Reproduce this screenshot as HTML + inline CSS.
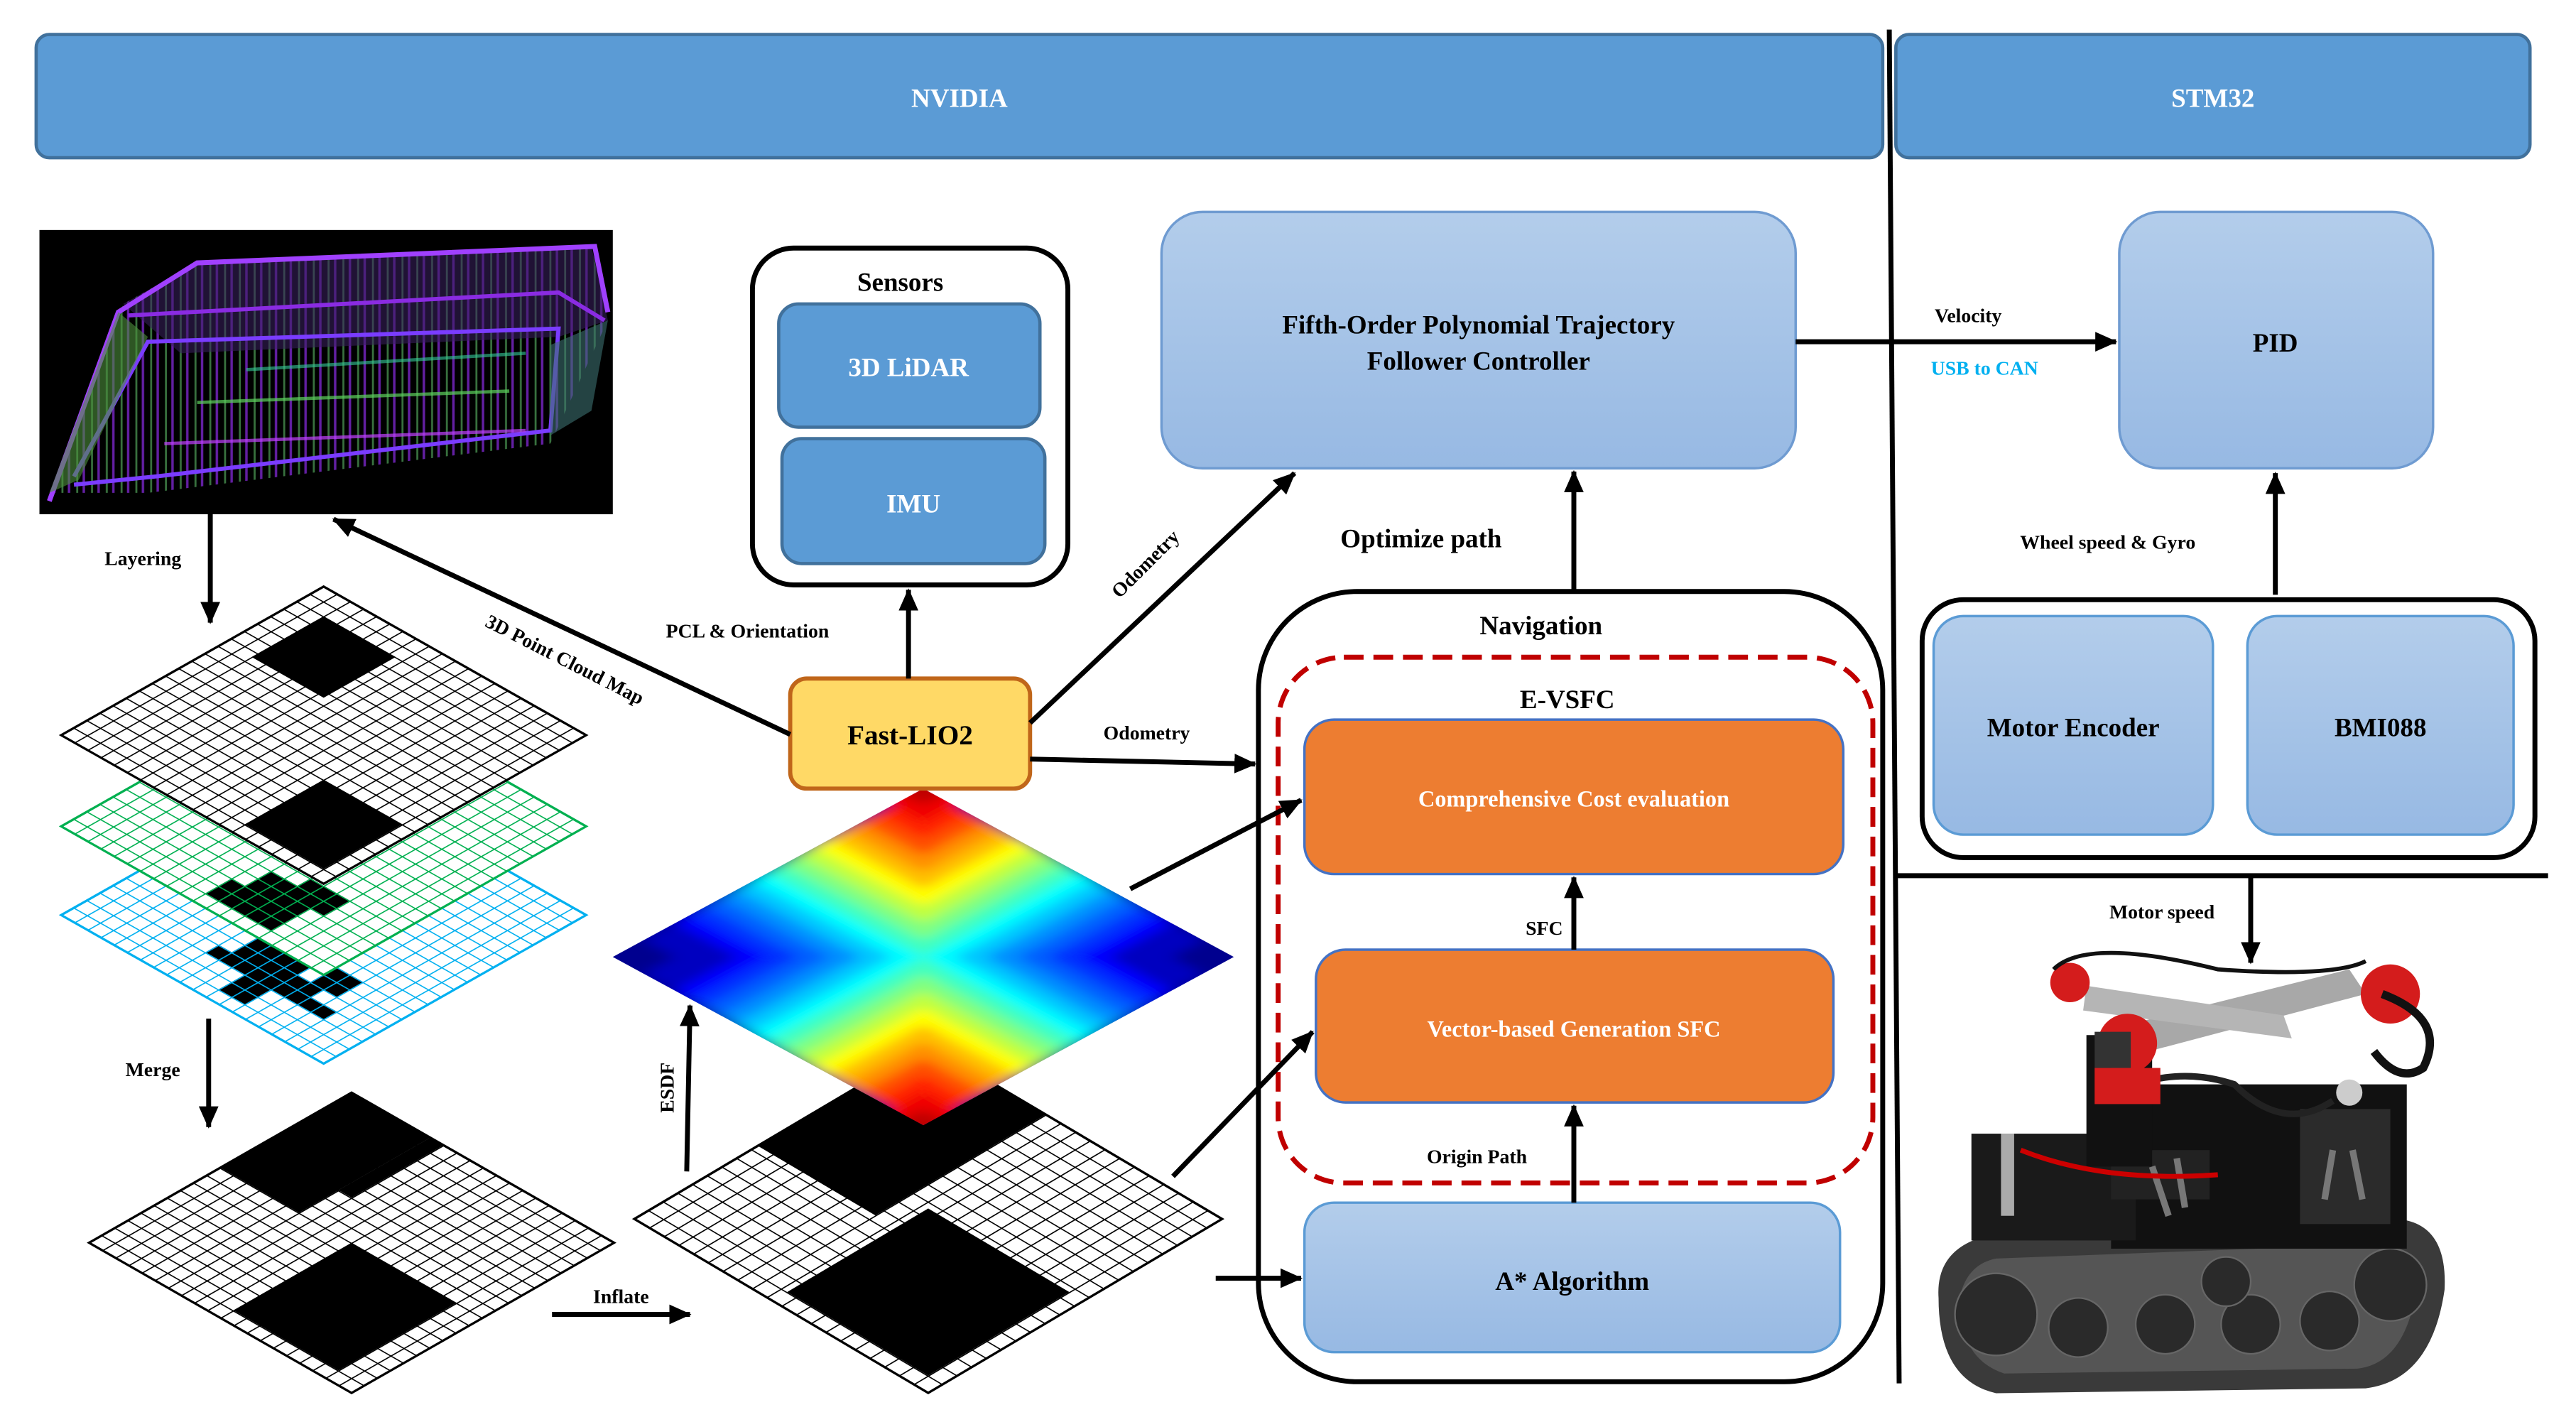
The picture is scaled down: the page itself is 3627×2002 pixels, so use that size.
<!DOCTYPE html>
<html><head><meta charset="utf-8"><style>
html,body{margin:0;padding:0;background:#fff;}
svg{display:block;}
text{font-family:"Liberation Serif",serif;font-weight:bold;}
</style></head><body>
<svg width="3627" height="2002" viewBox="0 0 1568 865.5" xmlns="http://www.w3.org/2000/svg">
<defs>
<marker id="ar" markerWidth="4.5" markerHeight="4" refX="4.2" refY="2" orient="auto" markerUnits="strokeWidth"><path d="M0,0 L4.5,2 L0,4 z" fill="#000"/></marker>
<linearGradient id="lb" x1="0" y1="0" x2="0" y2="1"><stop offset="0" stop-color="#B3CDEB"/><stop offset="1" stop-color="#97B9E3"/></linearGradient>
<pattern id="gk" width="11.3" height="11.3" patternUnits="userSpaceOnUse"><path d="M0 0H11.3M0 0V11.3" stroke="#000" stroke-width="2" fill="none"/></pattern>
<pattern id="gg" width="11.3" height="11.3" patternUnits="userSpaceOnUse"><path d="M0 0H11.3M0 0V11.3" stroke="#00B050" stroke-width="2" fill="none"/></pattern>
<pattern id="gb" width="11.3" height="11.3" patternUnits="userSpaceOnUse"><path d="M0 0H11.3M0 0V11.3" stroke="#00B0F0" stroke-width="2" fill="none"/></pattern>
<pattern id="gk2" width="12.65" height="12.65" patternUnits="userSpaceOnUse"><path d="M0 0H12.65M0 0V12.65" stroke="#000" stroke-width="2" fill="none"/></pattern>
<pattern id="pcv" width="9" height="10" patternUnits="userSpaceOnUse"><rect width="9" height="10" fill="none"/><path d="M2 0V10" stroke="#7CFC8A" stroke-width="1.2" opacity="0.5"/><path d="M6 0V10" stroke="#9B30FF" stroke-width="1.5" opacity="0.7"/></pattern>
<clipPath id="esc"><rect width="267.3" height="267.3"/></clipPath>
<filter id="bl" x="-10%" y="-10%" width="120%" height="120%"><feGaussianBlur stdDeviation="5"/></filter>
</defs>

<!-- Top bars -->
<rect x="22" y="21" width="1124" height="75" rx="8" fill="#5B9BD5" stroke="#41719C" stroke-width="2"/>
<text x="584" y="65" font-size="16" fill="#fff" text-anchor="middle">NVIDIA</text>
<rect x="1154" y="21" width="386" height="75" rx="8" fill="#5B9BD5" stroke="#41719C" stroke-width="2"/>
<text x="1347" y="65" font-size="16" fill="#fff" text-anchor="middle">STM32</text>
<line x1="1150" y1="18" x2="1156" y2="842" stroke="#000" stroke-width="3"/>
<line x1="1155" y1="533" x2="1551" y2="533" stroke="#000" stroke-width="3"/>

<!-- Point cloud image -->
<rect x="24" y="140" width="349" height="173" fill="#000"/>
<g>
<polygon points="30,300 75,185 120,160 360,150 370,195 335,270 90,300" fill="url(#pcv)" opacity="0.9"/>
<polygon points="75,185 120,160 360,150 370,195 340,205 110,215" fill="#3a2060" opacity="0.55"/>
<polyline points="30,305 72,190 120,160 362,150 370,190" fill="none" stroke="#A040FF" stroke-width="3"/>
<polyline points="78,192 340,178 368,195" fill="none" stroke="#8A2BE2" stroke-width="2.5"/>
<polyline points="45,290 90,208 340,200 335,262 95,290 45,295" fill="none" stroke="#7A3CFF" stroke-width="2.5"/>
<polyline points="120,245 310,238" fill="none" stroke="#5DD35D" stroke-width="2" opacity="0.7"/>
<polyline points="100,270 320,262" fill="none" stroke="#C040FF" stroke-width="2" opacity="0.7"/>
<polygon points="30,300 72,190 90,205 48,292" fill="#4d8f3c" opacity="0.6"/>
<polygon points="335,210 370,195 360,250 335,265" fill="#3c6f6f" opacity="0.6"/>
<polyline points="150,225 320,215" stroke="#33cc99" stroke-width="2" opacity="0.6" fill="none"/>
</g>

<!-- Sensors -->
<rect x="458" y="151" width="192" height="205" rx="25" fill="#fff" stroke="#000" stroke-width="3"/>
<text x="548" y="177" font-size="16" text-anchor="middle">Sensors</text>
<rect x="474" y="185" width="159" height="75" rx="12" fill="#5B9BD5" stroke="#41719C" stroke-width="2"/>
<text x="553" y="229" font-size="16" fill="#fff" text-anchor="middle">3D LiDAR</text>
<rect x="476" y="267" width="160" height="76" rx="12" fill="#5B9BD5" stroke="#41719C" stroke-width="2"/>
<text x="556" y="312" font-size="16" fill="#fff" text-anchor="middle">IMU</text>

<!-- Layered grids -->
<g transform="translate(197,466.5) scale(1,0.566) rotate(45)">
<rect width="226" height="226" fill="#fff"/>
<rect x="101.7" y="158.2" width="45.2" height="33.9" fill="#000"/>
<rect x="135.6" y="169.5" width="33.9" height="22.6" fill="#000"/>
<rect x="124.3" y="192.1" width="22.6" height="22.6" fill="#000"/>
<rect x="158.2" y="146.9" width="22.6" height="22.6" fill="#000"/>
<rect x="169.5" y="180.8" width="22.6" height="11.3" fill="#000"/>
<rect x="90.4" y="180.8" width="22.6" height="11.3" fill="#000"/>
<rect width="226" height="226" fill="url(#gb)" stroke="#00B0F0" stroke-width="2"/>
</g>
<g transform="translate(197,412.5) scale(1,0.566) rotate(45)">
<rect width="226" height="226" fill="#fff"/>
<rect x="124.3" y="169.5" width="45.2" height="45.2" fill="#000"/>
<rect x="146.9" y="158.2" width="33.9" height="22.6" fill="#000"/>
<rect x="113" y="192.1" width="11.3" height="22.6" fill="#000"/>
<rect width="226" height="226" fill="url(#gg)" stroke="#00B050" stroke-width="2"/>
</g>
<g transform="translate(197,357) scale(1,0.566) rotate(45)">
<rect width="226" height="226" fill="#fff"/>
<rect x="22.6" y="22.6" width="62" height="62" fill="#000"/>
<rect x="146.9" y="146.9" width="67.8" height="67.8" fill="#000"/>
<rect width="226" height="226" fill="url(#gk)" stroke="#000" stroke-width="2"/>
</g>

<!-- Merged grid -->
<g transform="translate(214,665) scale(1,0.572) rotate(45)">
<rect width="226" height="226" fill="#fff"/>
<rect x="0" y="0" width="67.8" height="113" fill="#000"/>
<rect x="67.8" y="0" width="11.3" height="79" fill="#000"/>
<rect x="113" y="113" width="90.4" height="101.7" fill="#000"/>
<rect width="226" height="226" fill="url(#gk)" stroke="#000" stroke-width="2"/>
</g>

<!-- Inflated grid -->
<g transform="translate(565,636) scale(1,0.592) rotate(45)">
<rect width="253" height="253" fill="#fff"/>
<rect x="0" y="0" width="101.2" height="146.7" fill="#000"/>
<rect x="118.9" y="118.9" width="121.4" height="121.4" fill="#000"/>
<rect width="253" height="253" fill="url(#gk2)" stroke="#000" stroke-width="2"/>
</g>

<!-- ESDF -->
<g transform="translate(562,480) scale(1,0.542) rotate(45)">
<g clip-path="url(#esc)">
<g filter="url(#bl)">
<rect x="-20" y="-20" width="310" height="310" fill="#00008F"/>
<rect x="0" y="0" width="240.6" height="240.6" fill="#0000C0"/><rect x="26.7" y="26.7" width="240.6" height="240.6" fill="#0000C0"/>
<rect x="0" y="0" width="213.8" height="213.8" fill="#0000FF"/><rect x="53.5" y="53.5" width="213.8" height="213.8" fill="#0000FF"/>
<rect x="0" y="0" width="200.5" height="200.5" fill="#0030FF"/><rect x="66.8" y="66.8" width="200.5" height="200.5" fill="#0030FF"/>
<rect x="0" y="0" width="187.1" height="187.1" fill="#0060FF"/><rect x="80.2" y="80.2" width="187.1" height="187.1" fill="#0060FF"/>
<rect x="0" y="0" width="173.7" height="173.7" fill="#0090FF"/><rect x="93.6" y="93.6" width="173.7" height="173.7" fill="#0090FF"/>
<rect x="0" y="0" width="160.4" height="160.4" fill="#00C8FF"/><rect x="106.9" y="106.9" width="160.4" height="160.4" fill="#00C8FF"/>
<rect x="0" y="0" width="147" height="147" fill="#00FFFF"/><rect x="120.3" y="120.3" width="147" height="147" fill="#00FFFF"/>
<rect x="0" y="0" width="133.7" height="133.7" fill="#40FFC0"/><rect x="133.6" y="133.6" width="133.7" height="133.7" fill="#40FFC0"/>
<rect x="0" y="0" width="120.3" height="120.3" fill="#80FF80"/><rect x="147" y="147" width="120.3" height="120.3" fill="#80FF80"/>
<rect x="0" y="0" width="106.9" height="106.9" fill="#C0FF40"/><rect x="160.4" y="160.4" width="106.9" height="106.9" fill="#C0FF40"/>
<rect x="0" y="0" width="93.6" height="93.6" fill="#FFFF00"/><rect x="173.7" y="173.7" width="93.6" height="93.6" fill="#FFFF00"/>
<rect x="0" y="0" width="80.2" height="80.2" fill="#FFC000"/><rect x="187.1" y="187.1" width="80.2" height="80.2" fill="#FFC000"/>
<rect x="0" y="0" width="66.8" height="66.8" fill="#FF9000"/><rect x="200.5" y="200.5" width="66.8" height="66.8" fill="#FF9000"/>
<rect x="0" y="0" width="53.5" height="53.5" fill="#FF5000"/><rect x="213.8" y="213.8" width="53.5" height="53.5" fill="#FF5000"/>
<rect x="0" y="0" width="40.1" height="40.1" fill="#FF2000"/><rect x="227.2" y="227.2" width="40.1" height="40.1" fill="#FF2000"/>
<rect x="-10" y="-10" width="36.7" height="36.7" fill="#F00000"/><rect x="240.6" y="240.6" width="36.7" height="36.7" fill="#F00000"/>
<rect x="-10" y="-10" width="23.4" height="23.4" fill="#C00000"/><rect x="253.9" y="253.9" width="23.4" height="23.4" fill="#C00000"/>
</g>
</g>
</g>

<!-- Fast-LIO2 -->
<rect x="481" y="413" width="146" height="67" rx="10" fill="#FFD966" stroke="#C0661A" stroke-width="2.5"/>
<text x="554" y="453" font-size="17" text-anchor="middle">Fast-LIO2</text>

<!-- Fifth-order & PID -->
<rect x="707" y="129" width="386" height="156" rx="25" fill="url(#lb)" stroke="#6F9BD1" stroke-width="1.5"/>
<text x="900" y="203" font-size="16" text-anchor="middle">Fifth-Order Polynomial Trajectory</text>
<text x="900" y="225" font-size="16" text-anchor="middle">Follower Controller</text>
<rect x="1290" y="129" width="191" height="156" rx="25" fill="url(#lb)" stroke="#6F9BD1" stroke-width="1.5"/>
<text x="1385" y="214" font-size="16" text-anchor="middle">PID</text>

<!-- Navigation -->
<rect x="766" y="360" width="380" height="481" rx="60" fill="#fff" stroke="#000" stroke-width="3"/>
<text x="938" y="386" font-size="16" text-anchor="middle">Navigation</text>
<rect x="778" y="400" width="362" height="320" rx="40" fill="none" stroke="#C00000" stroke-width="3" stroke-dasharray="12,6"/>
<text x="954" y="431" font-size="16" text-anchor="middle">E-VSFC</text>
<rect x="794" y="438" width="328" height="94" rx="18" fill="#ED7D31" stroke="#4472C4" stroke-width="1.5"/>
<text x="958" y="491" font-size="14" fill="#fff" text-anchor="middle">Comprehensive Cost evaluation</text>
<rect x="801" y="578" width="315" height="93" rx="18" fill="#ED7D31" stroke="#4472C4" stroke-width="1.5"/>
<text x="958" y="631" font-size="14" fill="#fff" text-anchor="middle">Vector-based Generation SFC</text>
<rect x="794" y="732" width="326" height="91" rx="18" fill="url(#lb)" stroke="#5B9BD5" stroke-width="1.5"/>
<text x="957" y="785" font-size="16" text-anchor="middle">A* Algorithm</text>
<text x="940" y="569" font-size="12" text-anchor="middle">SFC</text>
<text x="899" y="708" font-size="12" text-anchor="middle">Origin Path</text>

<!-- Sensor box right -->
<rect x="1170" y="365" width="373" height="157" rx="25" fill="#fff" stroke="#000" stroke-width="3"/>
<rect x="1177" y="375" width="170" height="133" rx="18" fill="url(#lb)" stroke="#5B9BD5" stroke-width="1.5"/>
<text x="1262" y="448" font-size="16" text-anchor="middle">Motor Encoder</text>
<rect x="1368" y="375" width="162" height="133" rx="18" fill="url(#lb)" stroke="#5B9BD5" stroke-width="1.5"/>
<text x="1449" y="448" font-size="16" text-anchor="middle">BMI088</text>

<!-- Robot -->
<g>
<path d="M1180,790 Q1178,760 1210,752 L1460,742 Q1490,745 1488,785 Q1480,840 1440,845 L1215,848 Q1180,840 1180,790 z" fill="#3a3a3a"/>
<path d="M1192,795 Q1195,770 1215,766 L1455,757 Q1475,765 1470,790 Q1462,830 1435,833 L1220,836 Q1195,828 1192,795 z" fill="#555"/>
<g fill="#2a2a2a" stroke="#666" stroke-width="1">
<circle cx="1215" cy="800" r="25"/><circle cx="1265" cy="808" r="18"/><circle cx="1318" cy="806" r="18"/><circle cx="1370" cy="806" r="18"/><circle cx="1418" cy="804" r="18"/><circle cx="1355" cy="780" r="15"/><circle cx="1455" cy="782" r="22"/>
</g>
<rect x="1285" y="660" width="180" height="100" fill="#111"/>
<rect x="1200" y="690" width="100" height="65" fill="#1a1a1a"/>
<rect x="1285" y="700" width="60" height="30" fill="#222"/>
<rect x="1400" y="675" width="55" height="70" fill="#2b2b2b"/>
<path d="M1310,710 L1320,740 M1325,705 L1330,735 M1420,700 L1415,730 M1432,700 L1438,730" stroke="#777" stroke-width="4"/>
<rect x="1270" y="630" width="40" height="80" fill="#111"/>
<path d="M1300,660 Q1330,650 1360,660 Q1390,690 1420,670" stroke="#222" stroke-width="4" fill="none"/>
<path d="M1230,700 Q1280,720 1350,715" stroke="#c00" stroke-width="3" fill="none"/>
<rect x="1218" y="690" width="8" height="50" fill="#aaa"/>
<polygon points="1290,625 1430,590 1440,605 1300,642" fill="#a8a8a8"/>
<polygon points="1270,600 1390,618 1395,632 1268,615" fill="#b5b5b5"/>
<circle cx="1295" cy="635" r="18" fill="#d41c1c"/>
<rect x="1275" y="650" width="40" height="22" fill="#d41c1c"/>
<circle cx="1455" cy="605" r="18" fill="#d41c1c"/>
<circle cx="1260" cy="598" r="12" fill="#d41c1c"/>
<rect x="1275" y="628" width="22" height="22" fill="#333"/>
<path d="M1450,605 Q1490,620 1475,650 Q1460,660 1445,640" stroke="#111" stroke-width="5" fill="none"/>
<path d="M1250,590 Q1270,570 1350,590 Q1420,595 1440,585" stroke="#111" stroke-width="2.5" fill="none"/>
<circle cx="1430" cy="665" r="8" fill="#ccc"/>
</g>

<!-- Arrows -->
<g stroke="#000" stroke-width="3" fill="none" marker-end="url(#ar)">
<line x1="553" y1="413" x2="553" y2="359"/>
<line x1="481" y1="447" x2="203" y2="316"/>
<line x1="627" y1="440" x2="788" y2="288"/>
<line x1="627" y1="462" x2="764" y2="465"/>
<line x1="1093" y1="208" x2="1288" y2="208"/>
<line x1="958" y1="359" x2="958" y2="287"/>
<line x1="958" y1="578" x2="958" y2="534"/>
<line x1="958" y1="732" x2="958" y2="673"/>
<line x1="740" y1="778" x2="792" y2="778"/>
<line x1="688" y1="541" x2="792" y2="487"/>
<line x1="714" y1="716" x2="799" y2="628"/>
<line x1="1385" y1="362" x2="1385" y2="288"/>
<line x1="1370" y1="533" x2="1370" y2="586"/>
<line x1="128" y1="313" x2="128" y2="379"/>
<line x1="127" y1="620" x2="127" y2="686"/>
<line x1="418" y1="713" x2="420" y2="612"/>
<line x1="336" y1="800" x2="420" y2="800"/>
</g>

<!-- Labels -->
<g font-size="12">
<text x="87" y="344" text-anchor="middle">Layering</text>
<text x="93" y="655" text-anchor="middle">Merge</text>
<text x="378" y="793" text-anchor="middle">Inflate</text>
<text x="410" y="662" text-anchor="middle" transform="rotate(-90 410 662)">ESDF</text>
<text x="455" y="388" text-anchor="middle">PCL &amp; Orientation</text>
<text x="342" y="405" text-anchor="middle" transform="rotate(27 342 405)">3D Point Cloud Map</text>
<text x="700" y="346" text-anchor="middle" transform="rotate(-45 700 346)">Odometry</text>
<text x="698" y="450" text-anchor="middle">Odometry</text>
<text x="1198" y="196" text-anchor="middle">Velocity</text>
<text x="1208" y="228" text-anchor="middle" fill="#00B0F0">USB to CAN</text>
<text x="1283" y="334" text-anchor="middle">Wheel speed &amp; Gyro</text>
<text x="1316" y="559" text-anchor="middle">Motor speed</text>
</g>
<text x="865" y="333" font-size="16" text-anchor="middle">Optimize path</text>
</svg>
</body></html>
